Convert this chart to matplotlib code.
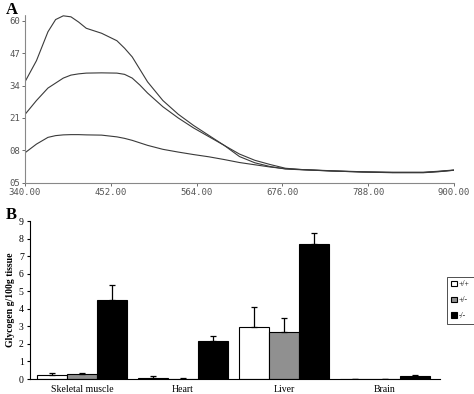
import numpy as np
import matplotlib.pyplot as plt

# Panel A: spectra
wavelength = [340, 355, 370, 380, 390, 400, 410, 420, 440, 460, 470, 480, 490, 500, 520, 540, 560,
              580, 600, 620, 640, 660, 680, 700, 740, 780, 820, 860, 880, 900]
curve_top = [35.5, 44, 55.6, 60.5, 62, 61.6, 59.5, 57, 55, 52, 49, 45.5, 40.5, 35.5, 28, 22.5, 18,
             14, 10, 6.5, 4, 2.3, 0.8, 0.3, -0.3, -0.7, -1, -1, -0.6, 0]
curve_mid = [22.4, 28, 33, 35, 37, 38.2, 38.7, 39, 39.1, 39, 38.5, 37, 34.2, 31, 25.5, 21, 17,
             13.5, 10, 5.5, 3, 1.5, 0.5, 0.2, -0.3, -0.7, -0.9, -0.9, -0.5, 0]
curve_low = [7, 10.5, 13.2, 13.9, 14.2, 14.3, 14.3, 14.2, 14.1, 13.4, 12.8, 12, 11, 10, 8.4, 7.3, 6.3,
             5.4, 4.3, 3.1, 2.2, 1.3, 0.6, 0.3, -0.2, -0.6, -0.8, -0.8, -0.4, 0.1]
a_yticks = [-5, 8, 21, 34, 47, 60]
a_ylabels = ["05", "08", "21", "34", "47", "60"]
a_xticks = [340, 452, 564, 676, 788, 900]

# Panel B: glycogen
tissues = ["Skeletal muscle", "Heart", "Liver", "Brain"]
genotypes = ["+/+", "+/-", "-/-"]
means = {"+/+": [0.25, 0.08, 2.95, 0.0],
         "+/-": [0.28, 0.02, 2.7, 0.02],
         "-/-": [4.5, 2.15, 7.7, 0.18]}
errs = {"+/+": [0.08, 0.07, 1.15, 0.0],
        "+/-": [0.04, 0.02, 0.75, 0.01],
        "-/-": [0.85, 0.3, 0.6, 0.04]}
bar_colors = {"+/+": "white", "+/-": "#909090", "-/-": "black"}

fig = plt.figure(figsize=(4.74, 3.94), dpi=100)

ax1 = fig.add_axes([0.0527, 0.5363, 0.905, 0.4267])
for c in [curve_top, curve_mid, curve_low]:
    ax1.plot(wavelength, c, color="#3a3a3a", lw=0.8)
ax1.set_xlim(340, 900)
ax1.set_ylim(-5, 62.5)
ax1.set_yticks(a_yticks)
ax1.set_yticklabels(a_ylabels)
ax1.set_xticks(a_xticks)
ax1.set_xticklabels([f"{t}.00" for t in a_xticks])
for s in ["top", "right"]:
    ax1.spines[s].set_visible(False)
for s in ["left", "bottom"]:
    ax1.spines[s].set_color("#888888")
    ax1.spines[s].set_linestyle((0, (1, 1)))
    ax1.spines[s].set_linewidth(0.8)
ax1.tick_params(labelsize=6.5, colors="#555555", length=2, width=0.6, pad=1.5)
for lab in ax1.get_xticklabels() + ax1.get_yticklabels():
    lab.set_family("DejaVu Sans Mono")

ax2 = fig.add_axes([0.0633, 0.038, 0.865, 0.401])
x = np.arange(len(tissues))
w = 0.295
for i, g in enumerate(genotypes):
    ax2.bar(x + (i - 1) * w, means[g], w, yerr=[[0] * len(tissues), errs[g]],
            color=bar_colors[g], edgecolor="black", linewidth=0.8,
            error_kw=dict(ecolor="black", elinewidth=0.9, capsize=2.5, capthick=0.9),
            label=g)
ax2.set_xlim(-0.515, 3.545)
ax2.set_ylim(0, 9)
ax2.set_yticks(range(0, 10))
ax2.set_xticks(x)
ax2.set_xticklabels(tissues)
ax2.tick_params(axis="x", length=0, labelsize=7, pad=4)
ax2.tick_params(axis="y", length=2.5, labelsize=7, pad=2)
for lab in ax2.get_xticklabels() + ax2.get_yticklabels():
    lab.set_family("Liberation Serif")
for s in ["top", "right"]:
    ax2.spines[s].set_visible(False)
ax2.set_ylabel("Glycogen g/100g tissue", family="Liberation Serif",
               fontweight="bold", fontsize=7, labelpad=3)

leg = fig.legend(loc="upper left", bbox_to_anchor=(0.944, 0.298), frameon=True,
                 fancybox=False, edgecolor="black",
                 prop={"family": "Liberation Serif", "size": 5.5},
                 handlelength=0.7, handleheight=0.7, handletextpad=0.3,
                 borderpad=0.5, labelspacing=1.0, borderaxespad=0)
leg.get_frame().set_linewidth(0.6)

fig.text(0.012, 0.975, "A", family="Liberation Serif", fontweight="bold", fontsize=12, va="center")
fig.text(0.012, 0.455, "B", family="Liberation Serif", fontweight="bold", fontsize=12, va="center")

fig.savefig("out.png", dpi=100)
